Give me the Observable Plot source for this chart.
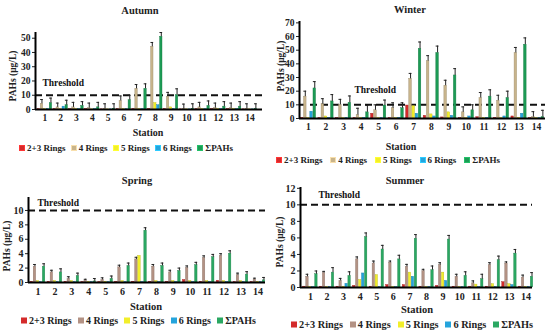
<!DOCTYPE html>
<html><head><meta charset="utf-8">
<script src="https://cdn.jsdelivr.net/npm/d3@7"></script>
<script src="https://cdn.jsdelivr.net/npm/@observablehq/plot@0.6"></script>
<style>
html,body{margin:0;padding:0;background:#fff;}
body{width:550px;height:333px;position:relative;overflow:hidden;font-family:'Liberation Serif','Times New Roman',serif;font-weight:bold;color:#222;}
.abs{position:absolute;white-space:nowrap;}
.c{transform:translate(-50%,-50%);}
.ylab{transform:translate(-50%,-50%) rotate(-90deg);}
.legend{position:absolute;display:flex;justify-content:space-between;align-items:center;transform:translateY(-50%);white-space:nowrap;}
.legend span.item{display:flex;align-items:center;}
.legend span.sw{display:inline-block;box-sizing:border-box;margin-right:2px;}
svg{position:absolute;}
svg text{font-family:'Liberation Serif','Times New Roman',serif;font-weight:bold;}
</style></head><body>
<script>
const stations = [1,2,3,4,5,6,7,8,9,10,11,12,13,14];
const seriesNames = ["2+3 Rings","4 Rings","5 Rings","6 Rings","ΣPAHs"];

// Autumn
const autumnR23 = [0.2,0.2,0.2,0.2,0.1,0.2,0.3,0.4,0.3,0.1,0.2,0.2,0.2,0.1];
const autumnR4  = [4,1.5,1.5,1,0.5,6,14.5,44,9,0.3,1.5,1,1,0.5];
const autumnR5  = [0.2,0.2,0.2,0.1,0.1,0.2,0.3,4.5,1.5,0.1,0.2,0.2,0.2,0.1];
const autumnR6  = [0.3,2,0.2,0.2,0.1,0.2,0.3,3,0.3,0.1,0.2,0.2,0.2,0.1];
const autumnSum = [4.5,3,2.5,1.5,0.5,6.5,14.5,51,10,0.5,2.5,2,2,0.5];
const autumnErr4   = [3,3,3.5,3.5,3.5,3.5,3,3,3,3.5,3.5,3.5,3.5,3.5];
const autumnErrSum = [3.5,3.5,3,3.5,3.5,3.5,3.5,3,4.5,3.5,3.5,3.5,3.5,3.5];

// Winter
const winterR23 = [0.5,0.3,0.3,0.3,3.5,0.3,9.5,2,0.8,0.3,1,0.5,1.5,0.3];
const winterR4  = [16,10.5,10,2.5,6,7.5,29,42,24,4.5,15,13,48,1];
const winterR5  = [0.3,1.5,0.3,0.3,0.3,0.3,9,3,4.5,0.3,0.5,0.3,0.5,0.2];
const winterR6  = [5,0.5,0.5,0.5,0.3,0.5,3.5,1.5,2,1.5,0.5,1.5,3.5,0.3];
const winterSum = [22,12.5,11.5,4.5,9.5,7.5,51,48,31.5,6,16,15,54,1];
const winterErr4   = [4,4,4,5,4,4,4,4,4,4,4,4,4,4];
const winterErrSum = [5,5,5,5,4,4,5,5,5,4,5,5,5,5];

// Spring
const springR23 = [0.1,0.1,0.1,0.05,0.05,0.1,0.1,0.1,0.1,0.35,0.1,0.25,0.05,0.05];
const springR4  = [2.2,1.4,0.5,0.3,0.35,2.1,3.2,2.2,1.4,2.0,3.4,3.7,1.0,0.4];
const springR5  = [0.2,0.2,0.2,0.1,0.1,0.2,3.7,0.2,0.2,0.2,0.2,0.2,0.2,0.1];
const springR6  = [0.05,0.05,0.05,0.05,0.05,0.05,0.05,0.05,0.05,0.05,0.05,0.05,0.05,0.05];
const springSum = [2.2,1.4,0.9,0.15,0.5,2.3,7.2,2.3,1.6,2.4,3.5,4.0,1.1,0.3];
const springErr4   = [0.3,0.3,0.3,0.15,0.3,0.3,0.3,0.3,0.3,0.3,0.3,0.3,0.3,0.2];
const springErrSum = [0.4,0.5,0.4,0.4,0.4,0.4,0.4,0.4,0.4,0.4,0.4,0.4,0.4,0.4];

// Summer
const summerR23 = [0.1,0.1,0.1,0.2,0.1,0.3,0.3,0.1,0.2,0.1,0.1,0.1,0.65,0.1];
const summerR4  = [1.3,1.75,0.8,3.4,2.9,3.0,2.5,2.0,2.7,1.3,0.5,2.7,2.9,1.2];
const summerR5  = [0.05,0.05,0.1,0.9,1.5,0.05,1.8,0.05,1.8,0.05,0.35,0.4,0.4,0.05];
const summerR6  = [0.05,0.05,0.45,1.7,0.05,0.05,1.3,0.05,0.8,0.05,0.05,0.05,0.3,0.05];
const summerSum = [1.6,1.8,1.4,6.1,4.6,3.4,5.9,2.1,5.8,1.4,1.0,3.3,4.1,1.3];
const summerErr4   = [0.3,0.2,0.3,0.3,0.3,0.2,0.3,0.2,0.3,0.3,0.3,0.3,0.2,0.3];
const summerErrSum = [0.4,0.6,0.5,0.5,0.5,0.5,0.5,0.5,0.5,0.5,0.6,0.5,0.5,0.5];

const threshold = 10;
const colorsAW = ["#d42b2b","#c8b48b","#f2ee2a","#25a4dc","#1c9b55"];
const colorsSS = ["#d42b2b","#b39284","#f2ee2a","#25a4dc","#2aa862"];
const FONT = "'Liberation Serif', 'Times New Roman', serif";

function addText(txt, x, y, cls, size){
  const d = document.createElement("div");
  d.className = "abs " + cls;
  d.style.left = x + "px"; d.style.top = y + "px"; d.style.fontSize = size + "px";
  d.textContent = txt;
  document.body.appendChild(d);
}
function addLegend(x, y, w, size, colors, outlined){
  const L = document.createElement("div");
  L.className = "legend";
  L.style.left = x + "px"; L.style.top = y + "px"; L.style.width = w + "px"; L.style.fontSize = size + "px";
  seriesNames.forEach((n, k) => {
    const it = document.createElement("span"); it.className = "item";
    const sw = document.createElement("span"); sw.className = "sw";
    const s = Math.round(size*0.62);
    sw.style.width = s + "px"; sw.style.height = s + "px";
    sw.style.background = colors[k];
    if (outlined) sw.style.border = "1px solid " + d3.color(colors[k]).brighter(0.6);
    it.appendChild(sw);
    it.appendChild(document.createTextNode(n));
    L.appendChild(it);
  });
  document.body.appendChild(L);
}

function panel(cfg){
  const {left, top, width, height, mt, mb, ml, mr, xDomain, yDomain, yTicks, series, err4, errSum, colors, thrDx, thrDy, fs, w} = cfg;
  const rows = [];
  series.forEach((vals, k) => vals.forEach((v, i) => rows.push({station: stations[i], k, v})));
  const errRows = [];
  [[1, series[1], err4], [4, series[4], errSum]].forEach(([k, vals, es]) =>
    vals.forEach((v, i) => errRows.push({station: stations[i], k, v, e: es[i]})));
  const cx = d => d.station + (d.k - 2) * w;
  const p = Plot.plot({
    width, height, marginTop: mt, marginBottom: mb, marginLeft: ml, marginRight: mr,
    style: {fontFamily: FONT, fontWeight: "bold", fontSize: fs + "px", color: "#222", background: "transparent", overflow: "visible"},
    color: {type: "identity"},
    x: {type: "linear", domain: xDomain, ticks: stations, tickFormat: d => String(d), tickSize: 0, tickPadding: 5, label: null},
    y: {domain: yDomain, ticks: yTicks, tickSize: 3, tickPadding: 2, label: null},
    marks: [
      Plot.ruleY([threshold], {stroke: "#111", strokeWidth: 2, strokeDasharray: "7,4"}),
      Plot.rectY(rows, {x1: d => cx(d) - w/2, x2: d => cx(d) + w/2, y1: 0, y2: "v",
        fill: d => colors[d.k], stroke: d => d3.color(colors[d.k]).darker(0.7).formatHex(), strokeWidth: 0.4, insetLeft: 0.3, insetRight: 0.3}),
      Plot.ruleX(errRows, {x: cx, y1: "v", y2: d => d.v + d.e, stroke: "#222", strokeWidth: 1}),
      Plot.ruleY(errRows, {x1: d => cx(d) - w*0.45, x2: d => cx(d) + w*0.45, y: d => d.v + d.e, stroke: "#222", strokeWidth: 1}),
      Plot.ruleY([0], {stroke: "#000", strokeWidth: 2}),
      Plot.ruleX([xDomain[0]], {y1: 0, y2: yDomain[1], stroke: "#000", strokeWidth: 2}),
      Plot.text([threshold], {y: d => d, text: () => "Threshold", frameAnchor: "left", textAnchor: "start", dx: thrDx, dy: thrDy, fontSize: 9.5, fontWeight: "bold", fontFamily: FONT, fill: "#111"})
    ]
  });
  p.style.left = left + "px"; p.style.top = top + "px";
  document.body.appendChild(p);
}

// Autumn
panel({left: 0, top: 0, width: 275, height: 128, mt: 32, mb: 19, ml: 35, mr: 13,
  xDomain: [0.4, 14.8], yDomain: [0, 54], yTicks: [0,10,20,30,40,50],
  series: [autumnR23, autumnR4, autumnR5, autumnR6, autumnSum], err4: autumnErr4, errSum: autumnErrSum,
  colors: colorsAW, thrDx: 7, thrDy: -12, fs: 9.5, w: 0.19});
addText("Autumn", 140, 10, "c", 10.5);
addText("Station", 148, 132, "c", 10);
addText("PAHs  (μg/L)", 13, 76, "ylab", 9.5);
addLegend(19, 148, 214, 9, colorsAW, true);

// Winter
panel({left: 275, top: 0, width: 275, height: 140, mt: 21, mb: 22, ml: 24, mr: 5,
  xDomain: [0.49, 14.51], yDomain: [0, 71], yTicks: [0,10,20,30,40,50,60,70],
  series: [winterR23, winterR4, winterR5, winterR6, winterSum], err4: winterErr4, errSum: winterErrSum,
  colors: colorsAW, thrDx: 55, thrDy: -15, fs: 9.5, w: 0.18});
addText("Winter", 410, 9, "c", 10.5);
addText("Station", 401, 146, "c", 10);
addText("PAHs  (μg/L)", 281, 66, "ylab", 9.5);
addLegend(276, 160, 224, 9, colorsAW, true);

// Spring
panel({left: 0, top: 165, width: 275, height: 140, mt: 32, mb: 23, ml: 28, mr: 10,
  xDomain: [0.44, 14.45], yDomain: [0, 11.8], yTicks: [0,2,4,6,8,10],
  series: [springR23, springR4, springR5, springR6, springSum], err4: springErr4, errSum: springErrSum,
  colors: colorsSS, thrDx: 9, thrDy: -8, fs: 10, w: 0.18});
addText("Spring", 137, 180, "c", 10.5);
addText("Station", 146, 306, "c", 10.5);
addText("PAHs  (μg/L)", 7, 246, "ylab", 9.5);
addLegend(21, 320, 235, 10, colorsSS, false);

// Summer
panel({left: 275, top: 165, width: 275, height: 140, mt: 22, mb: 18, ml: 25, mr: 18,
  xDomain: [0.4, 14.39], yDomain: [0, 12.1], yTicks: [0,2,4,6,8,10,12],
  series: [summerR23, summerR4, summerR5, summerR6, summerSum], err4: summerErr4, errSum: summerErrSum,
  colors: colorsSS, thrDx: 18, thrDy: -10, fs: 10, w: 0.18});
addText("Summer", 405, 180, "c", 10.5);
addText("Station", 417, 309, "c", 10.5);
addText("PAHs (μg/L)", 280, 242, "ylab", 9.5);
addLegend(291, 324, 242, 10.3, colorsSS, false);
</script>
</body></html>
